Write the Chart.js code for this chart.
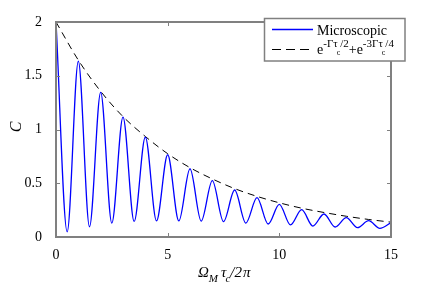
<!DOCTYPE html>
<html>
<head>
<meta charset="utf-8">
<script src="https://cdn.jsdelivr.net/npm/chart.js@4/dist/chart.umd.min.js"></script>
<style>
  html, body { margin: 0; padding: 0; background: #fff; }
</style>
</head>
<body>
<canvas id="chart" width="432" height="289"></canvas>
<script>
// values
const xHalf = [0, 0.5, 1, 1.5, 2, 2.5, 3, 3.5, 4, 4.5, 5, 5.5, 6, 6.5, 7, 7.5,
               8, 8.5, 9, 9.5, 10, 10.5, 11, 11.5, 12, 12.5, 13, 13.5, 14, 14.5, 15];
const peaks = [2, 1.635, 1.345, 1.115, 0.93, 0.765, 0.635, 0.525, 0.437, 0.366,
               0.304, 0.254, 0.214, 0.18, 0.152, 0.133];
const troughs = [0.048, 0.095, 0.13, 0.145, 0.15, 0.15, 0.148, 0.143, 0.13, 0.121,
                 0.112, 0.102, 0.093, 0.087, 0.081];
const xInt = [0, 1, 2, 3, 4, 5, 6, 7, 8, 9, 10, 11, 12, 13, 14, 15];
const envelope = [2, 1.645, 1.355, 1.12, 0.935, 0.775, 0.645, 0.54, 0.45, 0.378,
                  0.318, 0.268, 0.228, 0.193, 0.163, 0.138];
const yTicks = [0, 0.5, 1, 1.5, 2];
const xTicks = [0, 5, 10, 15];

const FONT = '"Liberation Serif", "Times New Roman", serif';

// peaks at integers, troughs in between
const micro = xHalf.map((x, i) => ({ x: x, y: i % 2 === 0 ? peaks[i / 2] : troughs[(i - 1) / 2] }));
const env = xInt.map((x, i) => ({ x: x, y: envelope[i] }));

function drawRuns(ctx, x, y, parts) {
    parts.forEach(p => {
        ctx.font = (p.it ? 'italic ' : '') + p.size + 'px ' + FONT;
        ctx.fillText(p.t, x + (p.dx || 0), y + (p.dy || 0));
        x += ctx.measureText(p.t).width + (p.dx || 0);
    });
}

const frame = {
    id: 'frame',
    afterDraw(chart) {
        const ctx = chart.ctx;
        const a = chart.chartArea;
        const xs = chart.scales.x, ys = chart.scales.y;
        ctx.save();
        ctx.strokeStyle = '#808080';
        ctx.lineWidth = 1;
        // inward ticks
        ctx.beginPath();
        xTicks.forEach(v => {
            const px = Math.round(xs.getPixelForValue(v)) + 0.5;
            ctx.moveTo(px, a.bottom); ctx.lineTo(px, a.bottom - 4);
            ctx.moveTo(px, a.top); ctx.lineTo(px, a.top + 4);
        });
        yTicks.forEach(v => {
            const py = Math.round(ys.getPixelForValue(v)) + 0.5;
            ctx.moveTo(a.left, py); ctx.lineTo(a.left + 4, py);
            ctx.moveTo(a.right, py); ctx.lineTo(a.right - 4, py);
        });
        ctx.stroke();
        ctx.lineWidth = 2;
        ctx.strokeRect(a.left, a.top, a.right - a.left, a.bottom - a.top);

        // legend
        ctx.fillStyle = '#fff';
        ctx.fillRect(264.5, 18.5, 140.5, 42.5);
        ctx.lineWidth = 1.5;
        ctx.strokeRect(264.5, 18.5, 140.5, 42.5);
        ctx.strokeStyle = '#0000ff';
        ctx.lineWidth = 1.5;
        ctx.beginPath(); ctx.moveTo(272, 29.5); ctx.lineTo(313, 29.5); ctx.stroke();
        ctx.strokeStyle = '#000';
        ctx.lineWidth = 1.2;
        ctx.setLineDash([9, 5]);
        ctx.beginPath(); ctx.moveTo(272, 49.5); ctx.lineTo(313, 49.5); ctx.stroke();
        ctx.setLineDash([]);
        ctx.fillStyle = '#000';
        ctx.textAlign = 'left';
        ctx.textBaseline = 'alphabetic';
        drawRuns(ctx, 317, 34.5, [{ t: 'Microscopic', size: 14 }]);
        drawRuns(ctx, 317, 53.5, [
            { t: 'e', size: 14 },
            { t: '-Γτ', size: 11, dy: -6.5 },
            { t: 'c', size: 8, dy: 1.5, dx: -1 },
            { t: '/2', size: 11, dy: -6.5 },
            { t: '+e', size: 14 },
            { t: '-3Γτ', size: 11, dy: -6.5 },
            { t: 'c', size: 8, dy: 1.5, dx: -1 },
            { t: '/4', size: 11, dy: -6.5 }
        ]);

        // axis titles
        drawRuns(ctx, 198, 277, [
            { t: 'Ω', size: 15, it: true },
            { t: 'M', size: 11, it: true, dy: 5 },
            { t: 'τ', size: 15, it: true, dx: 3 },
            { t: 'c', size: 11, it: true, dy: 5, dx: -1 },
            { t: '/2', size: 15, it: true },
            { t: 'π', size: 15, it: true, dx: 1 }
        ]);
        ctx.translate(17, 127);
        ctx.rotate(-Math.PI / 2);
        ctx.textAlign = 'center';
        ctx.textBaseline = 'middle';
        ctx.font = 'italic 16px ' + FONT;
        ctx.fillText('C', 0, 0);
        ctx.restore();
    }
};

new Chart(document.getElementById('chart'), {
    type: 'scatter',
    data: {
        datasets: [{
            label: 'Microscopic',
            data: micro,
            showLine: true,
            borderColor: '#0000ff',
            borderWidth: 1.3,
            pointRadius: 0,
            cubicInterpolationMode: 'monotone'
        }, {
            label: 'envelope',
            data: env,
            showLine: true,
            borderColor: '#000',
            borderWidth: 1,
            borderDash: [7, 5],
            pointRadius: 0,
            cubicInterpolationMode: 'monotone'
        }]
    },
    options: {
        responsive: false,
        animation: false,
        events: [],
        layout: { padding: { left: 0, top: 22, right: 41, bottom: 0 } },
        plugins: { legend: { display: false }, tooltip: { enabled: false } },
        scales: {
            x: {
                type: 'linear',
                min: 0, max: 15,
                afterFit: s => { s.height = 52; },
                afterBuildTicks: s => { s.ticks = xTicks.map(v => ({ value: v })); },
                grid: { display: false },
                border: { display: false },
                ticks: { padding: 2, color: '#000', font: { family: FONT, size: 14 }, maxRotation: 0,
                         callback: v => String(v) }
            },
            y: {
                min: 0, max: 2,
                afterFit: s => { s.width = 56; },
                afterBuildTicks: s => { s.ticks = yTicks.map(v => ({ value: v })); },
                grid: { display: false },
                border: { display: false },
                ticks: { padding: 6, color: '#000', font: { family: FONT, size: 14 },
                         callback: v => String(v) }
            }
        }
    },
    plugins: [frame]
});
</script>
</body>
</html>
